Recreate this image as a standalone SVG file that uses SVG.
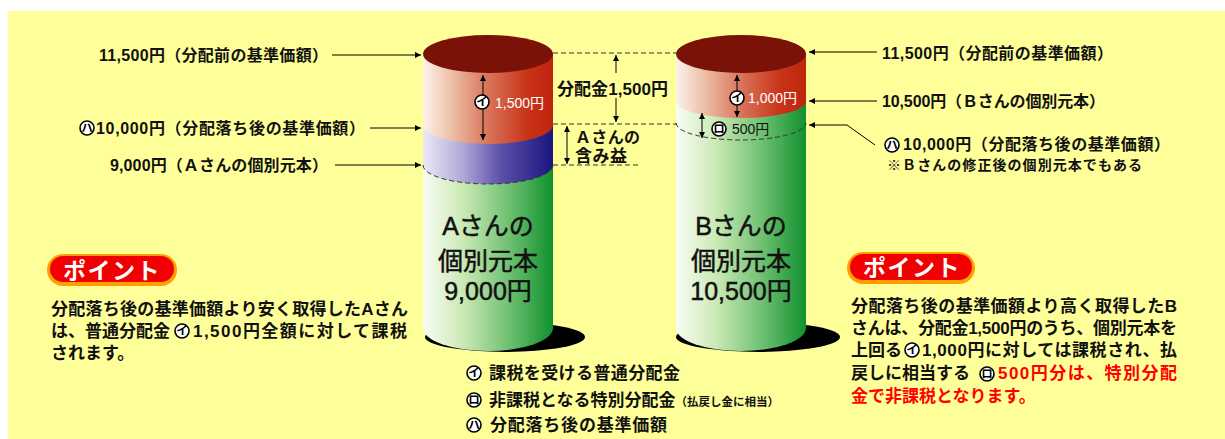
<svg xmlns="http://www.w3.org/2000/svg" width="1225" height="439" viewBox="0 0 1225 439">
  <defs>
    <style>
      text { font-family: "Liberation Sans", "Noto Sans CJK JP", sans-serif; fill: #111; }
      .lbl { font-size: 16px; font-weight: bold; }
      .para { font-size: 17px; font-weight: bold; }
      .red { fill: #F00; }
      .big { font-size: 25px; text-anchor: middle; stroke: #111; stroke-width: 0.5px; }
      .inw { font-size: 14px; fill: #fff; }
      .inb { font-size: 14px; fill: #111; }
      .pill { font-size: 23px; font-weight: bold; fill: #fff; letter-spacing: 1.5px; }
      .ln { stroke: #000; stroke-width: 1; fill: none; }
      .dash { stroke: #333; stroke-width: 1; fill: none; stroke-dasharray: 5 3; }
      .mk { fill: #fff; stroke: #000; stroke-width: 1.6; }
      .mkt { font-size: 11.5px; font-weight: bold; text-anchor: middle; fill: #000; }
    </style>
    <marker id="ah" viewBox="0 0 10 10" refX="10" refY="5" markerWidth="8" markerHeight="6" markerUnits="userSpaceOnUse" orient="auto-start-reverse">
      <path d="M0,0 L10,5 L0,10 z" fill="#000"/>
    </marker>
    <linearGradient id="gRed" x1="0" y1="0" x2="1" y2="0">
      <stop offset="0" stop-color="#FDF2EC"/>
      <stop offset="0.2" stop-color="#EEC4AC"/>
      <stop offset="0.5" stop-color="#D9745A"/>
      <stop offset="0.8" stop-color="#C83418"/>
      <stop offset="1" stop-color="#C0240E"/>
    </linearGradient>
    <linearGradient id="gPur" x1="0" y1="0" x2="1" y2="0">
      <stop offset="0" stop-color="#ECE8F6"/>
      <stop offset="0.3" stop-color="#B2AAD8"/>
      <stop offset="0.6" stop-color="#5C50A8"/>
      <stop offset="1" stop-color="#1A1680"/>
    </linearGradient>
    <linearGradient id="gGrn" x1="0" y1="0" x2="1" y2="0">
      <stop offset="0" stop-color="#F8FCF4"/>
      <stop offset="0.3" stop-color="#CDEAB6"/>
      <stop offset="0.65" stop-color="#72C274"/>
      <stop offset="1" stop-color="#10902E"/>
    </linearGradient>
  </defs>

  <!-- background panel -->
  <rect x="8" y="11" width="1217" height="428" fill="#FFFF99"/>

  <!-- cylinder A -->
  <g id="cylinder-a">
    <ellipse cx="505" cy="337" rx="80" ry="15" fill="#000"/>
    <path d="M423,165 L423,328 A65,23 0 0 0 553,328 L553,165 Z" fill="url(#gGrn)"/>
    <path d="M423,125 L423,165 A65,19 0 0 0 553,165 L553,125 Z" fill="url(#gPur)"/>
    <path d="M423,54 L423,125 A65,19 0 0 0 553,125 L553,54 Z" fill="url(#gRed)"/>
    <ellipse cx="488" cy="54" rx="65" ry="19" fill="#7A1208"/>
    <path class="dash" d="M423,165 A65,19 0 0 0 553,165"/>
    <line class="ln" x1="483" y1="75" x2="483" y2="140" marker-start="url(#ah)" marker-end="url(#ah)"/>
    <circle class="mk" cx="482" cy="102" r="7"/>
    <text class="mkt" x="482" y="106">イ</text>
    <text class="inw" x="495" y="108">1,500円</text>
    <text class="big" x="488" y="235">Aさんの</text>
    <text class="big" x="488" y="270">個別元本</text>
    <text class="big" x="488" y="300">9,000円</text>
  </g>

  <!-- cylinder B -->
  <g id="cylinder-b">
    <ellipse cx="758" cy="337" rx="82" ry="15" fill="#000"/>
    <path d="M676,101 L676,328 A65,23 0 0 0 806,328 L806,101 Z" fill="url(#gGrn)"/>
    <path d="M676,54 L676,101 A65,17 0 0 0 806,101 L806,54 Z" fill="url(#gRed)"/>
    <ellipse cx="741" cy="54" rx="65" ry="19" fill="#7A1208"/>
    <path class="dash" d="M676,123 A65,17 0 0 0 806,123"/>
    <line class="ln" x1="737" y1="75" x2="737" y2="117" marker-start="url(#ah)" marker-end="url(#ah)"/>
    <circle class="mk" cx="737" cy="98" r="7"/>
    <text class="mkt" x="737" y="102">イ</text>
    <text class="inw" x="748" y="103">1,000円</text>
    <line class="ln" x1="702" y1="113" x2="702" y2="138" marker-start="url(#ah)" marker-end="url(#ah)"/>
    <circle class="mk" cx="719" cy="129" r="7"/>
    <text class="mkt" x="719" y="133">ロ</text>
    <text class="inb" x="732" y="134">500円</text>
    <text class="big" x="741" y="235">Bさんの</text>
    <text class="big" x="741" y="270">個別元本</text>
    <text class="big" x="741" y="300">10,500円</text>
  </g>

  <!-- value labels, A side -->
  <g id="labels-a">
    <text class="lbl" x="99" y="61" textLength="229">11,500円（分配前の基準価額）</text>
    <circle class="mk" cx="87" cy="128" r="7" fill="#F2F2F2"/>
    <text class="mkt" x="87" y="132">ハ</text>
    <text class="lbl" x="96" y="134" textLength="269">10,000円（分配落ち後の基準価額）</text>
    <text class="lbl" x="110" y="171" textLength="218">9,000円（Ａさんの個別元本）</text>
  </g>

  <!-- value labels, B side -->
  <g id="labels-b">
    <text class="lbl" x="882" y="59" textLength="231">11,500円（分配前の基準価額）</text>
    <text class="lbl" x="882" y="107" textLength="223">10,500円（Ｂさんの個別元本）</text>
    <circle class="mk" cx="892" cy="145" r="7"/>
    <text class="mkt" x="892" y="149">ハ</text>
    <text class="lbl" x="903" y="150" textLength="267">10,000円（分配落ち後の基準価額）</text>
    <text x="887" y="170" font-size="14" font-weight="bold" textLength="255">※Ｂさんの修正後の個別元本でもある</text>
  </g>

  <!-- middle measures -->
  <g id="measures">
    <text x="557" y="95" font-size="17" font-weight="bold" textLength="111">分配金1,500円</text>
    <text x="575" y="143" font-size="16" font-weight="bold" textLength="65">Ａさんの</text>
    <text x="575" y="162" font-size="17" font-weight="bold" textLength="52">含み益</text>
  </g>

  <!-- connectors -->
  <g id="connectors">
    <line class="ln" x1="332" y1="55" x2="421" y2="55" marker-end="url(#ah)"/>
    <line class="ln" x1="370" y1="128" x2="421" y2="128" marker-end="url(#ah)"/>
    <line class="ln" x1="335" y1="165" x2="421" y2="165" marker-end="url(#ah)"/>
    <line class="ln" x1="877" y1="52" x2="809" y2="52" marker-end="url(#ah)"/>
    <line class="ln" x1="877" y1="101" x2="809" y2="101" marker-end="url(#ah)"/>
    <polyline class="ln" points="875,145 847,125 809,125" marker-end="url(#ah)"/>
    <line class="dash" x1="553" y1="53" x2="681" y2="53"/>
    <line class="dash" x1="553" y1="124" x2="677" y2="124"/>
    <line class="dash" x1="553" y1="165" x2="640" y2="165"/>
    <line class="ln" x1="616" y1="73" x2="616" y2="55" marker-end="url(#ah)"/>
    <line class="ln" x1="616" y1="98" x2="616" y2="122" marker-end="url(#ah)"/>
    <line class="ln" x1="567" y1="126" x2="567" y2="164" marker-start="url(#ah)" marker-end="url(#ah)"/>
  </g>

  <!-- point note, A -->
  <g id="point-a">
    <rect x="47" y="254" width="130" height="32" rx="16" fill="#FFA000"/>
    <rect x="50" y="256" width="124" height="26" rx="13" fill="#F00000"/>
    <text class="pill" x="63" y="279">ポイント</text>
    <text class="para" x="51" y="315" textLength="357">分配落ち後の基準価額より安く取得したAさん</text>
    <text class="para" x="51" y="337">は、普通分配金</text>
    <circle class="mk" cx="182" cy="331" r="7" fill="#EEE"/>
    <text class="mkt" x="182" y="335">イ</text>
    <text class="para" x="193" y="337" textLength="214">1,500円全額に対して課税</text>
    <text class="para" x="51" y="359">されます。</text>
  </g>

  <!-- point note, B -->
  <g id="point-b">
    <rect x="847" y="252" width="128" height="32" rx="16" fill="#FFA000"/>
    <rect x="850" y="254" width="122" height="26" rx="13" fill="#F00000"/>
    <text class="pill" x="863" y="276">ポイント</text>
    <text class="para" x="851" y="312" textLength="326">分配落ち後の基準価額より高く取得したB</text>
    <text class="para" x="851" y="334" textLength="326">さんは、分配金1,500円のうち、個別元本を</text>
    <text class="para" x="851" y="356">上回る</text>
    <circle class="mk" cx="912" cy="350" r="7" fill="#EEE"/>
    <text class="mkt" x="912" y="354">イ</text>
    <text class="para" x="922" y="356" textLength="255">1,000円に対しては課税され、払</text>
    <text class="para" x="851" y="379">戻しに相当する</text>
    <circle class="mk" cx="987" cy="374" r="7" fill="#EEE"/>
    <text class="mkt" x="987" y="378">ロ</text>
    <text class="para red" x="998" y="379" textLength="179">500円分は、特別分配</text>
    <text class="para red" x="851" y="402">金で非課税となります。</text>
  </g>

  <!-- legend -->
  <g id="legend">
    <circle class="mk" cx="474" cy="373" r="7"/>
    <text class="mkt" x="474" y="377">イ</text>
    <text class="para" x="489" y="379" textLength="191">課税を受ける普通分配金</text>
    <circle class="mk" cx="474" cy="400" r="7"/>
    <text class="mkt" x="474" y="404">ロ</text>
    <text class="para" x="489" y="406">非課税となる特別分配金<tspan font-size="11.5">（払戻し金に相当）</tspan></text>
    <circle class="mk" cx="474" cy="425" r="7"/>
    <text class="mkt" x="474" y="429">ハ</text>
    <text class="para" x="490" y="431" textLength="177">分配落ち後の基準価額</text>
  </g>
</svg>
